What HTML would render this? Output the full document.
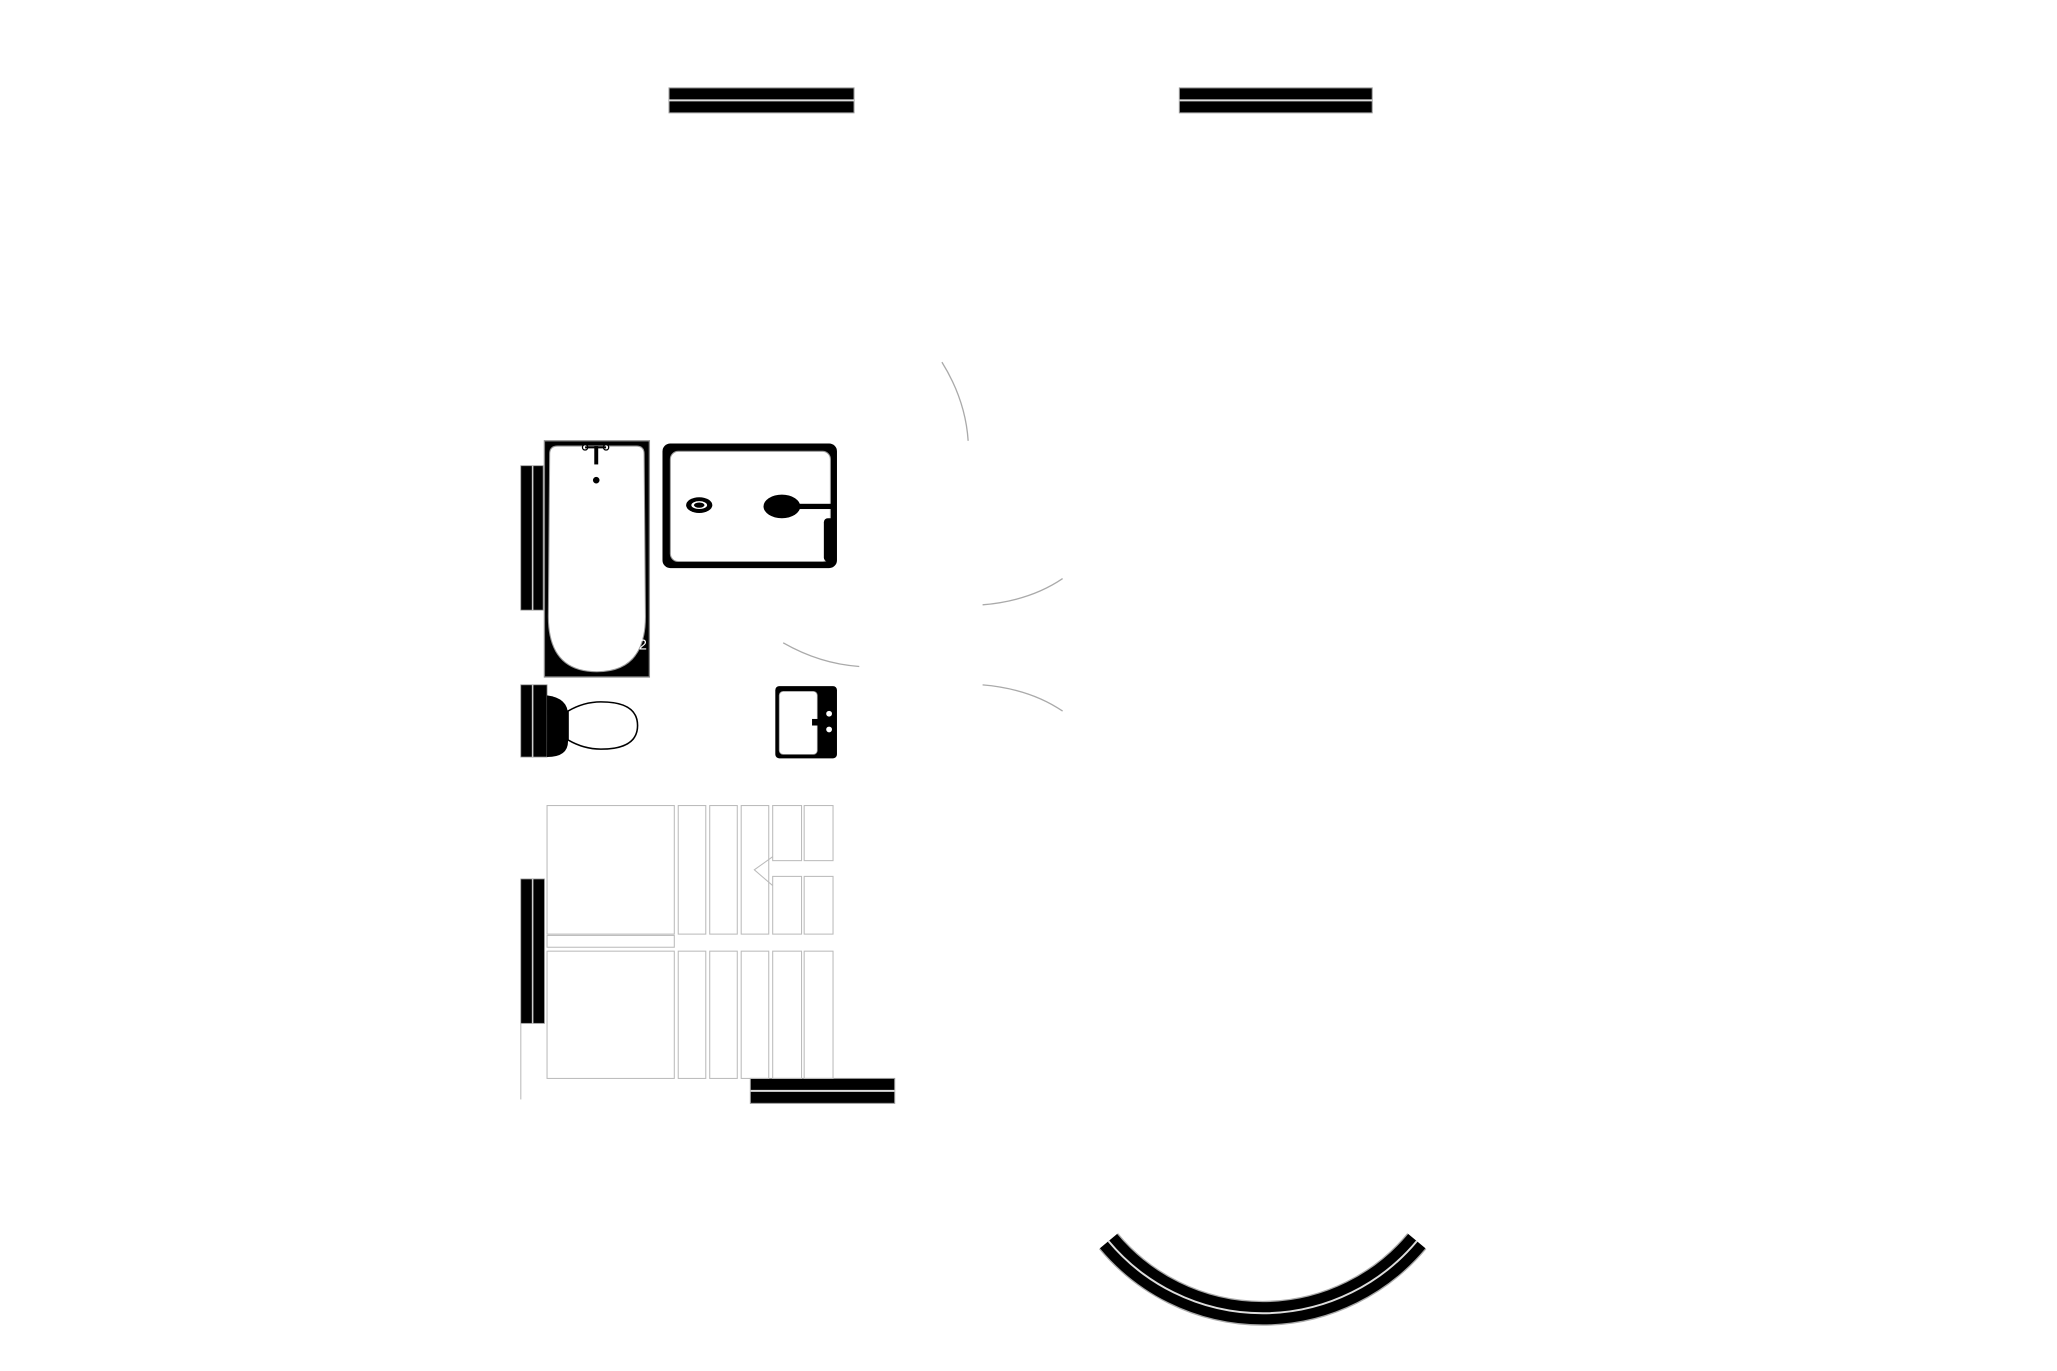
<!DOCTYPE html>
<html><head><style>html,body{margin:0;padding:0;background:#fff}svg{display:block}</style></head>
<body>
<svg width="2057" height="1371" viewBox="0 0 1568 1045" preserveAspectRatio="none" xmlns="http://www.w3.org/2000/svg">
<rect width="1568" height="1045" fill="#fff"/>
<g stroke="#999" stroke-width="0.8">
<rect x="510" y="67" width="141" height="19" fill="#000"/>
<rect x="899" y="67" width="147" height="19" fill="#000"/>
<rect x="572" y="822" width="110" height="19" fill="#000"/>
</g>
<line x1="510" y1="76.5" x2="651" y2="76.5" stroke="#ddd" stroke-width="1.5"/>
<line x1="899" y1="76.5" x2="1046" y2="76.5" stroke="#ddd" stroke-width="1.5"/>
<line x1="572" y1="831.5" x2="682" y2="831.5" stroke="#ddd" stroke-width="1.5"/>
<!-- wall strips -->
<g fill="#000" stroke="#888" stroke-width="0.6">
<rect x="397" y="355" width="17" height="110"/>
<rect x="397" y="522" width="20" height="55"/>
<rect x="397" y="670" width="18" height="110"/>
</g>
<g stroke="#ccc" stroke-width="1.2"><line x1="406" y1="355" x2="406" y2="465"/><line x1="406" y1="522" x2="406" y2="577"/><line x1="406" y1="670" x2="406" y2="780"/></g>
<!-- door arcs -->
<g fill="none" stroke="#aaa" stroke-width="1">
<path d="M718 276 Q736 305 738 336"/>
<path d="M749 461 Q785 458 810 441"/>
<path d="M597 490 Q625 506 655 508"/>
<path d="M749 522 Q785 525 810 542"/>
</g>
<!-- tub -->
<rect x="415" y="336" width="80" height="180" fill="#000" stroke="#888"/>
<path d="M425 340 H485 Q491 340 491 346 L492 470 Q492 512 455 512 Q418 512 418 470 L419 346 Q419 340 425 340 Z" fill="#fff" stroke="#999" stroke-width="0.8"/>
<rect x="453" y="340" width="3" height="14" fill="#000"/>
<circle cx="454.5" cy="366" r="2.5" fill="#000"/>
<circle cx="446" cy="341" r="2" fill="#fff" stroke="#000"/><circle cx="462" cy="341" r="2" fill="#fff" stroke="#000"/>
<line x1="446" y1="341" x2="462" y2="341" stroke="#000" stroke-width="1.5"/>
<text x="487" y="495" font-family="Liberation Sans, sans-serif" font-size="11" fill="#fff">2</text>
<!-- shower -->
<rect x="505" y="338" width="133" height="95" rx="6" fill="#000"/>
<rect x="511" y="344" width="122" height="84" rx="6" fill="#fff" stroke="#999" stroke-width="0.8"/>
<ellipse cx="533" cy="385" rx="10" ry="6" fill="#000"/><ellipse cx="533" cy="385" rx="6" ry="3" fill="#fff"/><ellipse cx="533" cy="385" rx="4" ry="2" fill="#000"/>
<ellipse cx="596" cy="386" rx="14" ry="9" fill="#000"/>
<rect x="605" y="384" width="32" height="4" fill="#000"/>
<rect x="628" y="395" width="9" height="33" rx="3" fill="#000"/>
<!-- toilet -->
<path d="M417 530 Q433 532 433 545 L433 565 Q433 577 417 577 Z" fill="#000"/>
<path d="M433 542 Q445 535 458 535 Q486 535 486 553 Q486 571 458 571 Q445 571 433 564 Z" fill="#fff" stroke="#000" stroke-width="1.2"/>
<!-- sink -->
<rect x="591" y="523" width="47" height="55" rx="3" fill="#000"/>
<rect x="594" y="527" width="29" height="48" rx="3" fill="#fff" stroke="#999" stroke-width="0.6"/>
<rect x="619" y="548" width="10" height="5" fill="#000"/>
<circle cx="632" cy="544" r="2.2" fill="#fff"/><circle cx="632" cy="556" r="2.2" fill="#fff"/>
<!-- stairs -->
<g fill="none" stroke="#bbb" stroke-width="0.8">
<rect x="417" y="614" width="97" height="98"/>
<rect x="417" y="713" width="97" height="9"/>
<rect x="417" y="725" width="97" height="97"/>
<rect x="517" y="614" width="21" height="98"/><rect x="541" y="614" width="21" height="98"/><rect x="565" y="614" width="21" height="98"/>
<rect x="589" y="614" width="22" height="42"/><rect x="613" y="614" width="22" height="42"/>
<rect x="589" y="668" width="22" height="44"/><rect x="613" y="668" width="22" height="44"/>
<rect x="517" y="725" width="21" height="97"/><rect x="541" y="725" width="21" height="97"/><rect x="565" y="725" width="21" height="97"/><rect x="589" y="725" width="22" height="97"/><rect x="613" y="725" width="22" height="97"/>
<path d="M589 653 L575 663 L589 675"/>
<line x1="397" y1="780" x2="397" y2="838"/>
</g>
<!-- curved wall -->
<path d="M845 946 A153 153 0 0 0 1080 946" fill="none" stroke="#aaa" stroke-width="19"/>
<path d="M845 946 A153 153 0 0 0 1080 946" fill="none" stroke="#000" stroke-width="17"/>
<path d="M845 946 A153 153 0 0 0 1080 946" fill="none" stroke="#ddd" stroke-width="1.5"/>
</svg>
</body></html>
